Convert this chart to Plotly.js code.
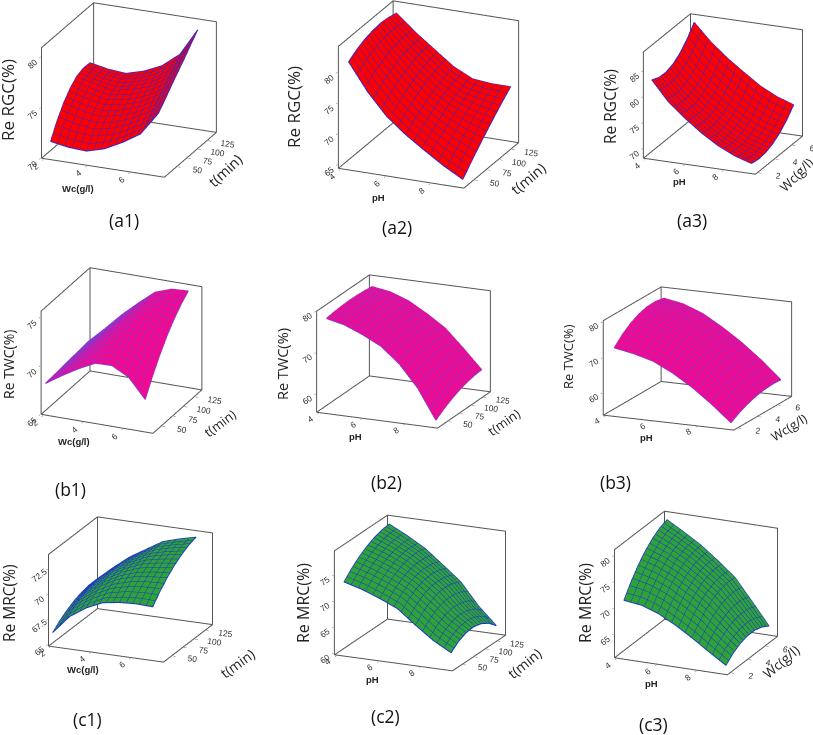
<!DOCTYPE html>
<html><head><meta charset="utf-8">
<script src="https://cdn.plot.ly/plotly-3.0.1.min.js"></script>
<style>html,body{margin:0;padding:0;width:813px;height:735px;overflow:hidden;background:#fff}
#plot{position:absolute;left:-100px;top:-100px;width:1013px;height:935px}</style>
</head><body><div id="plot"></div>
<script>
var wcAxis=[2,2.833,3.667,4.5,5.333,6.167,7];
var phAxis=[4.2,5.05,5.9,6.75,7.6,8.45,9.3];
var tAxis=[35,51.3,67.7,84,100.3,116.7,133];
var wcSide=[2,2.833,3.667,4.5,5.333,6.167,7];

var a1Z=[[71.1,70.8,70.7,71.2,72.1,73.2,75.5],[72.6,72.2,72.0,72.35,73.1,74.05,76.3],[73.8,73.3,73.0,73.35,73.95,74.9,77.15],[74.7,74.2,73.85,74.15,74.7,75.65,77.95],[75.3,74.8,74.45,74.8,75.35,76.4,78.75],[75.55,75.1,74.85,75.2,75.9,77.05,79.6],[75.5,75.15,75.0,75.5,76.3,77.7,80.4]];
var a2Z=[[81.4,77.0,73.5,71.0,68.9,66.9,65.2],[82.25,78.1,74.7,72.15,70.1,68.3,66.8],[82.85,78.95,75.75,73.15,71.15,69.6,68.35],[83.2,79.6,76.55,74.0,72.1,70.8,69.8],[83.35,80.0,77.2,74.7,72.9,71.9,71.2],[83.2,80.25,77.65,75.2,73.55,72.9,72.55],[82.85,80.2,77.9,75.6,74.1,73.8,73.8]];
var a3Z=[[83.0,79.2,76.5,74.1,72.1,70.6,69.6],[82.36,78.7,76.05,73.73,71.75,70.29,69.32],[82.28,78.74,76.13,73.84,71.86,70.42,69.48],[82.75,79.3,76.7,74.45,72.45,71.0,70.05],[83.78,80.4,77.79,75.54,73.5,72.02,71.04],[85.36,82.04,79.39,77.13,75.01,73.49,72.46],[87.5,84.2,81.5,79.2,77.0,75.4,74.3]];
var b1Z=[[68.0,69.1,70.1,70.95,71.0,70.1,68.1],[68.07,69.36,70.59,71.66,72.04,71.45,69.8],[68.13,69.58,70.99,72.23,72.91,72.6,71.3],[68.2,69.75,71.3,72.68,73.6,73.55,72.6],[68.27,69.88,71.53,72.98,74.11,74.3,73.7],[68.33,69.96,71.65,73.16,74.44,74.85,74.6],[68.4,70.0,71.7,73.2,74.6,75.2,75.3]];
var b2Z=[[77.9,76.9,75.1,72.9,69.2,64.0,56.8],[78.2,77.3,75.53,73.34,69.82,64.83,58.13],[78.37,77.56,75.83,73.62,70.28,65.47,59.22],[78.45,77.7,76.0,73.75,70.55,65.9,60.1],[78.41,77.7,76.03,73.72,70.64,66.13,60.76],[78.26,77.56,75.93,73.54,70.56,66.17,61.19],[78.0,77.3,75.7,73.2,70.3,66.0,61.4]];
var b3Z=[[72.3,71.3,69.8,67.1,63.7,59.6,55.0],[74.72,73.6,71.89,68.99,65.43,61.19,56.43],[76.54,75.36,73.49,70.45,66.77,62.42,57.54],[77.8,76.6,74.6,71.45,67.7,63.3,58.35],[78.48,77.3,75.23,72.01,68.23,63.82,58.84],[78.58,77.46,75.35,72.13,68.37,63.99,59.03],[78.1,77.1,75.0,71.8,68.1,63.8,58.9]];
var c1Z=[[66.05,67.85,68.95,69.7,69.95,70.05,69.98],[66.69,68.43,69.56,70.36,70.75,70.93,70.94],[67.19,68.88,70.05,70.9,71.42,71.66,71.77],[67.58,69.2,70.41,71.3,71.95,72.26,72.44],[67.84,69.39,70.64,71.56,72.33,72.71,72.97],[67.99,69.46,70.73,71.7,72.58,73.03,73.36],[68.0,69.4,70.7,71.7,72.7,73.2,73.6]];
var c2Z=[[73.45,72.5,71.2,69.7,67.0,64.5,62.6],[75.0,74.03,72.72,71.13,68.53,65.85,63.82],[76.29,75.24,73.89,72.17,69.61,66.73,64.51],[77.3,76.15,74.7,72.8,70.25,67.1,64.67],[78.05,76.74,75.15,73.03,70.45,67.0,64.3],[78.54,77.03,75.26,72.87,70.19,66.39,63.39],[78.75,77.0,75.0,72.3,69.5,65.3,61.95]];
var c3Z=[[71.1,70.7,69.6,67.9,65.9,63.7,61.6],[73.62,72.97,71.72,69.91,67.8,65.31,62.86],[75.73,74.83,73.43,71.51,69.27,66.49,63.69],[77.45,76.3,74.75,72.7,70.35,67.25,64.1],[78.77,77.37,75.67,73.47,71.01,67.59,64.09],[79.68,78.03,76.18,73.85,71.26,67.51,63.66],[80.2,78.3,76.3,73.8,71.1,67.0,62.8]];

var tTicks=[50,75,100,125], wcXTicks=[2,4,6], phTicks=[4,6,8], wcYTicks=[2,4,6];
var RED=['#ff0000','#3426cc',3], PINK=['#f5088e','#8438d0',2], GREEN=['#2fa33a','#1c34c8',3];

var OFF=100, W=1013, H=935;
var panels=[
 {id:'a1',z:a1Z,x:wcAxis,y:tAxis,xr:[1.9,7.6],yr:[18,147],zr:[70,80.9],xt:wcXTicks,yt:tTicks,zt:[70,75,80],col:RED,n:15,cx:129,cy:90.5,Lx:133.6,Lz:119,a:.39,b:.921,se:.365,ce:.931,
  zl:'Re RGC(%)',zp:[8,100],zs:17,yl:'t(min)',yp:[225,170],ys:14.5,ya:-43,xl:'Wc(g/l)',xp:[78,188],cap:'(a1)',cp:[124,220]},
 {id:'a2',z:a2Z,x:phAxis,y:tAxis,xr:[3.9,9.5],yr:[28,140],zr:[64.35,84.2],xt:phTicks,yt:tTicks,zt:[65,70,75,80],col:RED,n:14,cx:428.5,cy:95,Lx:137,Lz:131,a:.40,b:.917,se:.363,ce:.932,
  zl:'Re RGC(%)',zp:[293,107],zs:17,yl:'t(min)',yp:[528,178],ys:14.5,ya:-40,xl:'pH',xp:[378,197],cap:'(a2)',cp:[397,227]},
 {id:'a3',z:a3Z,x:phAxis,y:wcSide,xr:[3.9,9.64],yr:[1.7,7.26],zr:[68.1,88.65],xt:phTicks,yt:wcYTicks,zt:[70,75,80,85],col:RED,n:14,cx:722.5,cy:93.5,Lx:121.5,Lz:113,a:.387,b:.922,se:.34,ce:.94,
  zl:'Re RGC(%)',zp:[610,107],zs:15.5,yl:'Wc(g/l)',yp:[796,175],ys:13,ya:-45,xl:'pH',xp:[679,182],cap:'(a3)',cp:[692,220]},
 {id:'b1',z:b1Z,x:wcAxis,y:tAxis,xr:[1.9,7.5],yr:[30,141],zr:[65,75.6],xt:wcXTicks,yt:tTicks,zt:[65,70,75],col:PINK,n:17,cx:121.5,cy:350,Lx:122,Lz:112,a:.40,b:.916,se:.388,ce:.922,
  zl:'Re TWC(%)',zp:[8,365],zs:14,yl:'t(min)',yp:[220,423],ys:13,ya:-37,xl:'Wc(g/l)',xp:[74,441],cap:'(b1)',cp:[70,489]},
 {id:'b2',z:b2Z,x:phAxis,y:tAxis,xr:[3.9,9.53],yr:[28,141],zr:[55.6,80],xt:phTicks,yt:tTicks,zt:[60,70,80],col:PINK,n:17,cx:403.5,cy:351.5,Lx:132,Lz:106,a:.40,b:.916,se:.30,ce:.953,
  zl:'Re TWC(%)',zp:[282,364],zs:14.5,yl:'t(min)',yp:[504,422],ys:13,ya:-35,xl:'pH',xp:[355,436],cap:'(b2)',cp:[386,482]},
 {id:'b3',z:b3Z,x:phAxis,y:wcSide,xr:[3.9,9.6],yr:[1.6,7.4],zr:[53.8,80.4],xt:phTicks,yt:wcYTicks,zt:[60,70,80],col:PINK,n:17,cx:697.5,cy:358.5,Lx:143,Lz:98,a:.405,b:.914,se:.258,ce:.966,
  zl:'Re TWC(%)',zp:[568,357],zs:13,yl:'Wc(g/l)',yp:[789,427],ys:12.5,ya:-32,xl:'pH',xp:[646,437],cap:'(b3)',cp:[615,482]},
 {id:'c1',z:c1Z,x:wcAxis,y:tAxis,xr:[1.9,7.65],yr:[30,141],zr:[64.85,73.94],xt:wcXTicks,yt:tTicks,zt:[65,67.5,70,72.5],col:GREEN,n:15,cx:130,cy:589.5,Lx:125,Lz:97,a:.392,b:.92,se:.326,ce:.945,
  zl:'Re MRC(%)',zp:[9,603],zs:15.5,yl:'t(min)',yp:[237,663],ys:14,ya:-36,xl:'Wc(g/l)',xp:[83,669],cap:'(c1)',cp:[87,719]},
 {id:'c2',z:c2Z,x:phAxis,y:tAxis,xr:[3.9,9.52],yr:[28,143],zr:[59.65,79.7],xt:phTicks,yt:tTicks,zt:[60,65,70,75],col:GREEN,n:15,cx:419.5,cy:592.5,Lx:129.4,Lz:109,a:.41,b:.912,se:.302,ce:.953,
  zl:'Re MRC(%)',zp:[303,603],zs:16,yl:'t(min)',yp:[524,663],ys:14,ya:-39,xl:'pH',xp:[372,679],cap:'(c2)',cp:[385,716]},
 {id:'c3',z:c3Z,x:phAxis,y:wcSide,xr:[3.9,9.55],yr:[1.6,7.4],zr:[60.45,81.15],xt:phTicks,yt:wcYTicks,zt:[65,70,75,80],col:GREEN,n:15,cx:695.5,cy:592.5,Lx:123.5,Lz:115,a:.405,b:.915,se:.34,ce:.94,
  zl:'Re MRC(%)',zp:[585,603],zs:16,yl:'Wc(g/l)',yp:[781,662],ys:13.5,ya:-40,xl:'pH',xp:[651,683],cap:'(c3)',cp:[653,724]}
];

var data=[],layout={width:W,height:H,margin:{l:0,r:0,t:0,b:0},paper_bgcolor:'rgba(0,0,0,0)',showlegend:false,annotations:[]};
function ann(t,p,size,angle,font){
  layout.annotations.push({text:t,x:(p[0]+OFF)/W,y:1-(p[1]+OFF)/H,xref:'paper',yref:'paper',showarrow:false,xanchor:'center',yanchor:'middle',textangle:angle||0,font:font});
}
function pad(r){var e=(r[1]-r[0])*0.006;return [r[0]-e,r[1]+e];}
panels.forEach(function(p,i){
  var sn=i==0?'scene':'scene'+(i+1);
  var flat=[[0,p.col[0]],[1,p.col[0]]];
  var nx=p.x.length-1, ny=p.y.length-1;
  var xs=p.x[nx]-p.x[0], ys=p.y[ny]-p.y[0];
  data.push({type:'surface',scene:sn,x:p.x,y:p.y,z:p.z,showscale:false,colorscale:flat,hoverinfo:'skip',
    lighting:{ambient:1,diffuse:0,specular:0,fresnel:0,roughness:1},
    contours:{x:{show:true,start:p.x[0],end:p.x[nx],size:xs/p.n,color:p.col[1],width:p.col[2]},
              y:{show:true,start:p.y[0],end:p.y[ny],size:ys/p.n,color:p.col[1],width:p.col[2]}}});
  // surface outline, from the same grid values
  var ex=[],ey=[],ez=[],j;
  for(j=0;j<=nx;j++){ex.push(p.x[j]);ey.push(p.y[0]);ez.push(p.z[0][j]);}
  for(j=1;j<=ny;j++){ex.push(p.x[nx]);ey.push(p.y[j]);ez.push(p.z[j][nx]);}
  for(j=nx-1;j>=0;j--){ex.push(p.x[j]);ey.push(p.y[ny]);ez.push(p.z[ny][j]);}
  for(j=ny-1;j>=0;j--){ex.push(p.x[0]);ey.push(p.y[j]);ez.push(p.z[j][0]);}
  data.push({type:'scatter3d',scene:sn,mode:'lines',hoverinfo:'skip',line:{color:p.col[1],width:2},x:ex,y:ey,z:ez});
  var X=p.xr,Y=p.yr,Z=p.zr;
  data.push({type:'scatter3d',scene:sn,mode:'lines',hoverinfo:'skip',line:{color:'#555555',width:2},
    x:[X[0],X[1],X[1],X[0],X[0],X[0],X[0],X[0],X[0],X[1],X[1]],
    y:[Y[0],Y[0],Y[1],Y[1],Y[0],Y[0],Y[1],Y[1],Y[1],Y[1],Y[1]],
    z:[Z[0],Z[0],Z[0],Z[0],Z[0],Z[1],Z[1],Z[0],Z[1],Z[1],Z[0]]});
  var S=2*p.Lx*1.012, R=2;
  function axis(r,t){return {range:pad(r),autorange:false,tickmode:'array',tickvals:t,ticktext:t.map(String),title:{text:''},showgrid:false,zeroline:false,showline:false,showbackground:false,showspikes:false,ticks:'outside',ticklen:3,tickcolor:'#444',tickfont:{family:'Liberation Sans',size:10,color:'#333'}};}
  layout[sn]={domain:{x:[(p.cx-S/2+OFF)/W,(p.cx+S/2+OFF)/W],y:[1-(p.cy+S/2+OFF)/H,1-(p.cy-S/2+OFF)/H]},
    xaxis:axis(p.xr,p.xt),yaxis:axis(p.yr,p.yt),zaxis:axis(p.zr,p.zt),bgcolor:'rgba(0,0,0,0)',
    aspectmode:'manual',aspectratio:{x:1,y:1,z:p.Lz/p.Lx},
    camera:{projection:{type:'orthographic'},up:{x:0,y:0,z:1},center:{x:0,y:0,z:0},eye:{x:R*p.a*p.ce,y:-R*p.b*p.ce,z:R*p.se}}};
  ann(p.zl,p.zp,p.zs,-90,{family:'Open Sans',size:p.zs,color:'#222'});
  ann(p.yl,p.yp,p.ys,p.ya,{family:'Open Sans',size:p.ys,color:'#222'});
  ann(p.xl,p.xp,9.5,0,{family:'Liberation Sans',size:9.5,color:'#222',weight:700});
  ann(p.cap,p.cp,17.5,0,{family:'Open Sans',size:17.5,color:'#111'});
});
Plotly.newPlot('plot',data,layout,{displayModeBar:false});
</script></body></html>
